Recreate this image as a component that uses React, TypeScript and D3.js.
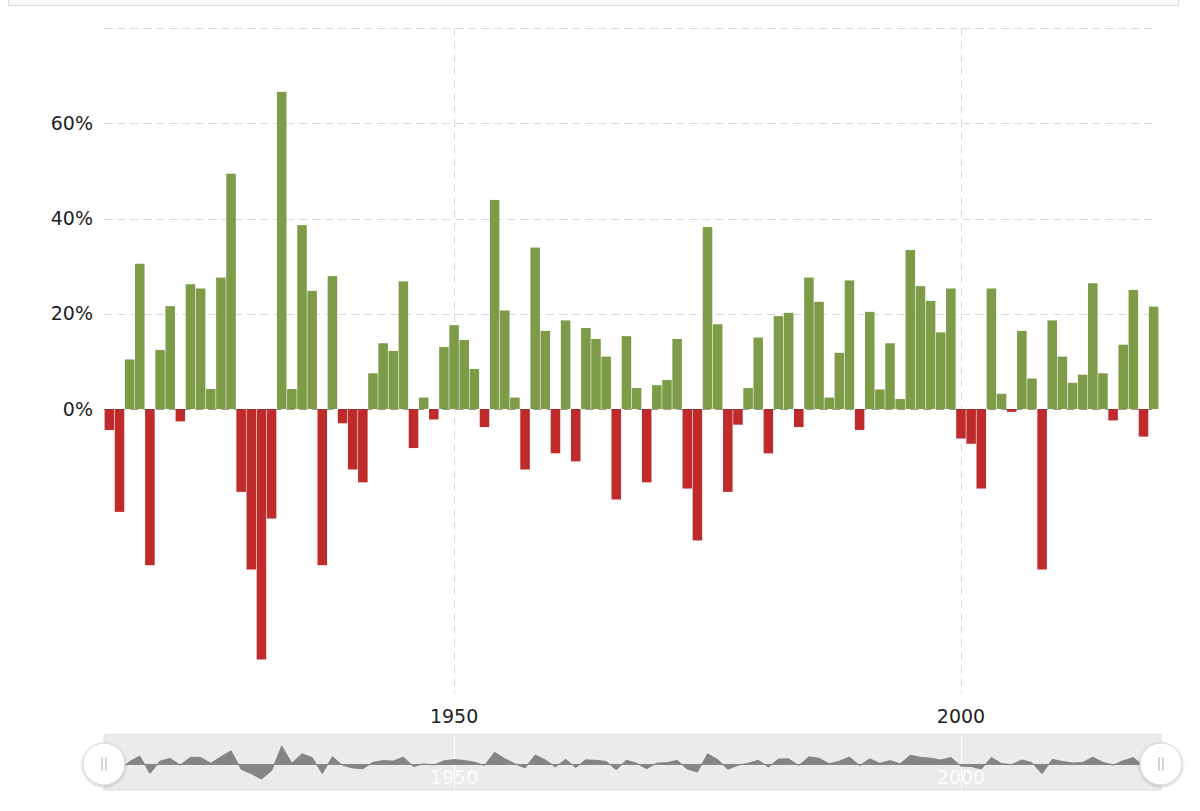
import React from "react";
import * as d3 from "d3";

const firstYear = 1916;
const lastYear = 2019;
const returns: number[] = [
  -4.4, -21.6, 10.4, 30.5, -32.8, 12.4, 21.6, -2.6, 26.2, 25.3,
  4.2, 27.6, 49.4, -17.4, -33.7, -52.6, -23.0, 66.6, 4.2, 38.6,
  24.8, -32.8, 27.9, -3.0, -12.7, -15.4, 7.5, 13.8, 12.2, 26.8,
  -8.2, 2.4, -2.2, 13.0, 17.6, 14.5, 8.4, -3.8, 43.9, 20.7,
  2.4, -12.7, 33.9, 16.4, -9.3, 18.6, -11.0, 17.0, 14.7, 11.0,
  -19.0, 15.3, 4.4, -15.4, 5.0, 6.1, 14.7, -16.7, -27.6, 38.2,
  17.8, -17.4, -3.3, 4.4, 15.0, -9.3, 19.5, 20.2, -3.8, 27.6,
  22.5, 2.4, 11.8, 27.0, -4.4, 20.4, 4.1, 13.8, 2.1, 33.4,
  25.8, 22.7, 16.1, 25.3, -6.2, -7.3, -16.7, 25.3, 3.2, -0.6,
  16.4, 6.4, -33.7, 18.6, 11.0, 5.5, 7.2, 26.4, 7.5, -2.4,
  13.5, 25.0, -5.8, 21.5,
];
const years: number[] = d3.range(firstYear, lastYear + 1);
const yTicks = [0, 20, 40, 60, 80];
const yLabelTicks = [0, 20, 40, 60];
const xTicks = [1950, 2000];

const W = 1200;
const H = 811;
const font = "'DejaVu Sans', Verdana, sans-serif";
const GREEN = "#7e9b48";
const RED = "#bf2a2a";

export default function App() {
  const plotLeft = 104.3;
  const plotRight = 1158.7;
  const plotTop = 28;
  const plotBottom = 700;
  const x = d3.scaleLinear().domain([firstYear - 0.5, lastYear + 0.5]).range([plotLeft, plotRight]);
  const y = d3.scaleLinear().domain([0, 80]).range([409, plotTop]);
  const pitch = x(1) - x(0);

  const navTop = 734.5;
  const navBottom = 790;
  const navLeft = 104;
  const navRight = 1161;
  const ext = d3.extent(returns) as [number, number];
  const ny = d3.scaleLinear().domain(ext).range([779, 746]);
  const pts = years.map((yr, i) => ({ yr, v: returns[i] }));
  const areaGen = d3
    .area<{ yr: number; v: number }>()
    .x((d) => x(d.yr))
    .y0(ny(0))
    .y1((d) => ny(d.v));

  const handle = (cx: number) => (
    <g>
      <circle cx={cx} cy={764} r={21} fill="#fff" stroke="#d6d6d6" strokeWidth={1} filter="url(#sh)" />
      <line x1={cx - 2} x2={cx - 2} y1={757} y2={771} stroke="#aaa" strokeWidth={1} />
      <line x1={cx + 2} x2={cx + 2} y1={757} y2={771} stroke="#aaa" strokeWidth={1} />
    </g>
  );

  return (
    <div style={{ position: "absolute", left: 0, top: 0 }}>
      <svg width={W} height={H} style={{ display: "block" }}>
        <defs>
          <filter id="sh" x="-50%" y="-50%" width="200%" height="200%">
            <feDropShadow dx="0" dy="1" stdDeviation="1.5" floodColor="#000" floodOpacity="0.25" />
          </filter>
        </defs>
        <rect x={0} y={0} width={W} height={H} fill="#fff" />
        {/* top box remnant */}
        <rect x={8.5} y={-10} width={1170} height={15.5} fill="#fafafa" stroke="#dcdcdc" strokeWidth={1} />

        {/* horizontal gridlines */}
        {yTicks.filter((t) => t !== 0).map((t) => (
          <line key={t} x1={plotLeft} x2={plotRight - 2} y1={Math.round(y(t)) + 0.5} y2={Math.round(y(t)) + 0.5}
            stroke="#d9d9d9" strokeWidth={1} strokeDasharray="8,5" />
        ))}
        {/* vertical gridlines */}
        {xTicks.map((t) => (
          <line key={t} x1={Math.round(x(t)) + 0.5} x2={Math.round(x(t)) + 0.5} y1={plotTop} y2={plotBottom - 6}
            stroke="#d9d9d9" strokeWidth={1} strokeDasharray="8,5" />
        ))}

        {/* bars */}
        {pts.map((d) => {
          const y0 = y(0);
          const y1 = y(d.v);
          return (
            <rect key={d.yr} x={x(d.yr) - pitch / 2 + 0.3} width={pitch - 0.6}
              y={Math.min(y0, y1)} height={Math.abs(y1 - y0)}
              fill={d.v >= 0 ? GREEN : RED} />
          );
        })}
        {/* zero line */}
        <line x1={plotLeft} x2={plotRight - 2} y1={Math.round(y(0)) + 0.5} y2={Math.round(y(0)) + 0.5}
          stroke="#444" strokeOpacity={0.55} strokeWidth={1} strokeDasharray="8,5" />

        {/* y labels */}
        {yLabelTicks.map((t) => (
          <text key={t} x={93} y={y(t)} dy="0.35em" textAnchor="end" fontFamily={font} fontSize={19} fill="#222">
            {t}%
          </text>
        ))}
        {/* x labels */}
        {xTicks.map((t) => (
          <text key={t} x={x(t)} y={723} textAnchor="middle" fontFamily={font} fontSize={19} fill="#222">
            {t}
          </text>
        ))}

        {/* navigator */}
        <rect x={navLeft} y={navTop} width={navRight - navLeft} height={navBottom - navTop} fill="#ebebeb" stroke="#e0e0e0" strokeWidth={1} />
        {xTicks.map((t) => (
          <line key={t} x1={Math.round(x(t)) + 0.5} x2={Math.round(x(t)) + 0.5} y1={navTop} y2={navBottom} stroke="#fff" strokeWidth={1} />
        ))}
        <path d={areaGen(pts) || ""} fill="#858585" stroke="#7a7a7a" strokeWidth={0.8} />
        {xTicks.map((t) => (
          <text key={t} x={x(t)} y={784} textAnchor="middle" fontFamily={font} fontSize={19} fill="#fff" fillOpacity={0.9}>
            {t}
          </text>
        ))}
        {handle(104)}
        {handle(1161)}
      </svg>
    </div>
  );
}
